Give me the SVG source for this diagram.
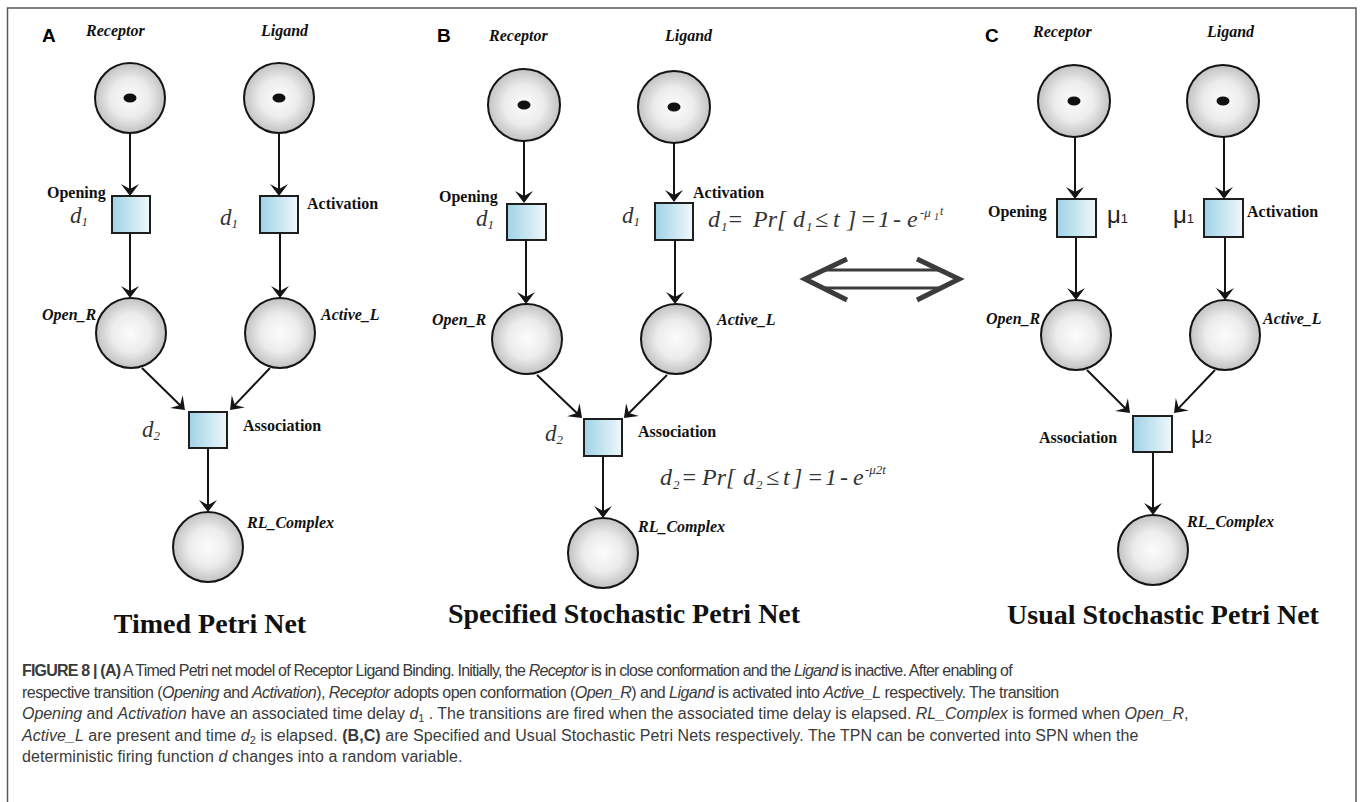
<svg xmlns="http://www.w3.org/2000/svg" width="1362" height="802" viewBox="0 0 1362 802">
  <style>
    .place { fill: url(#placeFill); stroke: #141414; stroke-width: 2; }
    .token { fill: #111; }
    .trans { fill: url(#transFill); stroke: #1e1e1e; stroke-width: 2; }
    .arc { fill: none; stroke: #141414; stroke-width: 2; marker-end: url(#head); }
    .name { font-family: "Liberation Serif", serif; font-weight: bold; font-style: italic; font-size: 16px; fill: #111; }
    .tname { font-family: "Liberation Serif", serif; font-weight: bold; font-size: 16px; fill: #111; }
    .delay { font-family: "Liberation Serif", serif; font-style: italic; font-size: 23px; fill: #333; }
    .sub { font-size: 13px; }
    .rate { font-family: "Liberation Sans", sans-serif; font-size: 24px; fill: #222; }
    .title { font-family: "Liberation Serif", serif; font-weight: bold; font-size: 28px; fill: #111; text-anchor: middle; }
    .panel { font-family: "Liberation Sans", sans-serif; font-weight: bold; font-size: 19px; fill: #000; }
    .formula { font-family: "Liberation Serif", serif; font-style: italic; font-size: 24px; fill: #333; }
    .cap { font-family: "Liberation Sans", sans-serif; font-size: 16px; fill: #3a3a3a; }
    .i { font-style: italic; }
    .b { font-weight: bold; }
    .dbl { fill: none; stroke: #3c3c3c; stroke-linejoin: miter; }
  </style>
  <defs>
    <radialGradient id="placeFill" cx="50%" cy="50%" r="50%">
      <stop offset="0" stop-color="#fcfcfc"/>
      <stop offset="0.55" stop-color="#ececec"/>
      <stop offset="1" stop-color="#c2c2c2"/>
    </radialGradient>
    <linearGradient id="transFill" x1="0" y1="0" x2="1" y2="0">
      <stop offset="0" stop-color="#9fd2e6"/>
      <stop offset="1" stop-color="#eff8fb"/>
    </linearGradient>
    <marker id="head" markerUnits="userSpaceOnUse" orient="auto" refX="-5" refY="0" markerWidth="30" markerHeight="30" overflow="visible">
      <path d="M0,0 L-12,-9 L-7,0 L-12,9 Z" fill="#141414"/>
    </marker>
  </defs>

  <rect x="0" y="0" width="1362" height="802" fill="#fff"/>
  <!-- figure frame -->
  <rect x="7.5" y="8" width="1348.5" height="820" fill="none" stroke="#5a5a5a" stroke-width="1.5"/>

  <!-- panel letters and titles -->
  <text class="panel" x="42" y="42">A</text>
  <text class="panel" x="437" y="42">B</text>
  <text class="panel" x="985" y="42">C</text>
  <text class="title" x="210" y="633">Timed Petri Net</text>
  <text class="title" x="624" y="623">Specified Stochastic Petri Net</text>
  <text class="title" x="1163" y="624">Usual Stochastic Petri Net</text>

  <!-- connectors -->
  <g id="connectors">
    <line class="arc" x1="130" y1="133" x2="130" y2="191"/>
    <line class="arc" x1="279" y1="133" x2="279" y2="191"/>
    <line class="arc" x1="130" y1="233" x2="130" y2="293"/>
    <line class="arc" x1="280" y1="233" x2="280" y2="293"/>
    <line class="arc" x1="142" y1="368" x2="181.4" y2="406.5"/>
    <line class="arc" x1="270" y1="368" x2="233.5" y2="406.4"/>
    <line class="arc" x1="208" y1="448" x2="208" y2="507"/>

    <line class="arc" x1="524" y1="141" x2="524" y2="198"/>
    <line class="arc" x1="674" y1="143" x2="674" y2="197"/>
    <line class="arc" x1="526" y1="240" x2="526" y2="299"/>
    <line class="arc" x1="675" y1="240" x2="675" y2="299"/>
    <line class="arc" x1="537" y1="375" x2="578.4" y2="414.5"/>
    <line class="arc" x1="667" y1="375" x2="627.5" y2="414.5"/>
    <line class="arc" x1="603" y1="456" x2="603" y2="513"/>

    <line class="arc" x1="1075" y1="137" x2="1075" y2="194"/>
    <line class="arc" x1="1224" y1="137" x2="1224" y2="194"/>
    <line class="arc" x1="1076" y1="237" x2="1076" y2="295"/>
    <line class="arc" x1="1225" y1="237" x2="1225" y2="295"/>
    <line class="arc" x1="1087" y1="370" x2="1126.5" y2="409.5"/>
    <line class="arc" x1="1215" y1="370" x2="1177.5" y2="409.4"/>
    <line class="arc" x1="1153" y1="452" x2="1153" y2="510"/>
  </g>

  <!-- Timed Petri Net -->
  <g id="a-receptor">
    <circle class="place" cx="130" cy="98" r="35"/>
    <ellipse class="token" cx="130" cy="98" rx="6.5" ry="4.5"/>
    <text class="name" x="86" y="36">Receptor</text>
  </g>
  <g id="a-ligand">
    <circle class="place" cx="279" cy="98" r="35"/>
    <ellipse class="token" cx="279" cy="98" rx="6.5" ry="4.5"/>
    <text class="name" x="261" y="36">Ligand</text>
  </g>
  <g id="a-opening">
    <rect class="trans" x="112" y="196" width="38" height="37"/>
    <text class="tname" x="47" y="198">Opening</text>
    <text class="delay" x="70" y="223">d<tspan class="sub" dy="3">1</tspan></text>
  </g>
  <g id="a-activation">
    <rect class="trans" x="260" y="196" width="38" height="37"/>
    <text class="tname" x="307" y="209">Activation</text>
    <text class="delay" x="220" y="225">d<tspan class="sub" dy="3">1</tspan></text>
  </g>
  <g id="a-open-r">
    <circle class="place" cx="131" cy="333" r="35"/>
    <text class="name" x="42" y="320">Open_R</text>
  </g>
  <g id="a-active-l">
    <circle class="place" cx="280" cy="333" r="35"/>
    <text class="name" x="321" y="320">Active_L</text>
  </g>
  <g id="a-association">
    <rect class="trans" x="189" y="412" width="38" height="36"/>
    <text class="tname" x="243" y="431">Association</text>
    <text class="delay" x="142" y="437">d<tspan class="sub" dy="3">2</tspan></text>
  </g>
  <g id="a-rl-complex">
    <circle class="place" cx="208" cy="547" r="35"/>
    <text class="name" x="247" y="528">RL_Complex</text>
  </g>

  <!-- Specified Stochastic Petri Net -->
  <g id="b-receptor">
    <circle class="place" cx="524" cy="105" r="36"/>
    <ellipse class="token" cx="524" cy="105" rx="6.5" ry="4.5"/>
    <text class="name" x="489" y="41">Receptor</text>
  </g>
  <g id="b-ligand">
    <circle class="place" cx="674" cy="107" r="36"/>
    <ellipse class="token" cx="674" cy="107" rx="6.5" ry="4.5"/>
    <text class="name" x="665" y="41">Ligand</text>
  </g>
  <g id="b-opening">
    <rect class="trans" x="507" y="204" width="39" height="36"/>
    <text class="tname" x="439" y="202">Opening</text>
    <text class="delay" x="476" y="226">d<tspan class="sub" dy="3">1</tspan></text>
  </g>
  <g id="b-activation">
    <rect class="trans" x="655" y="203" width="38" height="37"/>
    <text class="tname" x="693" y="198">Activation</text>
    <text class="delay" x="622" y="223">d<tspan class="sub" dy="3">1</tspan></text>
    <text class="formula" y="227"><tspan x="708">d</tspan><tspan class="sub" x="721" y="231">1</tspan><tspan x="727" y="227">=</tspan><tspan x="753">Pr[</tspan><tspan x="793">d</tspan><tspan class="sub" x="806" y="231">1</tspan><tspan x="815" y="227">≤</tspan><tspan x="833">t</tspan><tspan x="847">]</tspan><tspan x="860">=</tspan><tspan x="878">1</tspan><tspan x="893">-</tspan><tspan x="907">e</tspan><tspan font-size="13" x="920" y="217">-μ</tspan><tspan font-size="10" x="934" y="220">1</tspan><tspan font-size="12" x="940" y="215">t</tspan></text>
  </g>
  <g id="b-open-r">
    <circle class="place" cx="527" cy="339" r="35"/>
    <text class="name" x="432" y="325">Open_R</text>
  </g>
  <g id="b-active-l">
    <circle class="place" cx="676" cy="339" r="35"/>
    <text class="name" x="717" y="325">Active_L</text>
  </g>
  <g id="b-association">
    <rect class="trans" x="584" y="419" width="38" height="37"/>
    <text class="tname" x="638" y="437">Association</text>
    <text class="delay" x="545" y="441">d<tspan class="sub" dy="3">2</tspan></text>
    <text class="formula" y="485"><tspan x="660">d</tspan><tspan class="sub" x="673" y="489">2</tspan><tspan x="681" y="485">=</tspan><tspan x="702">Pr[</tspan><tspan x="743">d</tspan><tspan class="sub" x="756" y="489">2</tspan><tspan x="766" y="485">≤</tspan><tspan x="783">t</tspan><tspan x="793">]</tspan><tspan x="807">=</tspan><tspan x="825">1</tspan><tspan x="840">-</tspan><tspan x="853">e</tspan><tspan font-size="13" x="865" y="474">-μ2t</tspan></text>
  </g>
  <g id="b-rl-complex">
    <circle class="place" cx="603" cy="553" r="35"/>
    <text class="name" x="638" y="532">RL_Complex</text>
  </g>

  <!-- equivalence arrow between the two stochastic nets -->
  <g id="equivalence">
    <line class="dbl" x1="824" y1="270" x2="940" y2="270" stroke-width="3"/>
    <line class="dbl" x1="824" y1="288" x2="940" y2="288" stroke-width="3"/>
    <polyline class="dbl" points="847,259 805,279 847,300" stroke-width="5"/>
    <polyline class="dbl" points="917,259 959,279 917,300" stroke-width="5"/>
  </g>

  <!-- Usual Stochastic Petri Net -->
  <g id="c-receptor">
    <circle class="place" cx="1074" cy="101" r="36"/>
    <ellipse class="token" cx="1074" cy="101" rx="6.5" ry="4.5"/>
    <text class="name" x="1033" y="37">Receptor</text>
  </g>
  <g id="c-ligand">
    <circle class="place" cx="1223" cy="101" r="36"/>
    <ellipse class="token" cx="1223" cy="101" rx="6.5" ry="4.5"/>
    <text class="name" x="1207" y="37">Ligand</text>
  </g>
  <g id="c-opening">
    <rect class="trans" x="1057" y="199" width="39" height="38"/>
    <text class="tname" x="988" y="217">Opening</text>
    <text class="rate" x="1107" y="223">μ<tspan font-size="13">1</tspan></text>
  </g>
  <g id="c-activation">
    <rect class="trans" x="1204" y="199" width="39" height="38"/>
    <text class="tname" x="1247" y="217">Activation</text>
    <text class="rate" x="1173" y="223">μ<tspan font-size="13">1</tspan></text>
  </g>
  <g id="c-open-r">
    <circle class="place" cx="1076" cy="335" r="35"/>
    <text class="name" x="986" y="324">Open_R</text>
  </g>
  <g id="c-active-l">
    <circle class="place" cx="1225" cy="335" r="35"/>
    <text class="name" x="1263" y="324">Active_L</text>
  </g>
  <g id="c-association">
    <rect class="trans" x="1133" y="416" width="39" height="36"/>
    <text class="tname" x="1039" y="443">Association</text>
    <text class="rate" x="1191" y="443">μ<tspan font-size="13">2</tspan></text>
  </g>
  <g id="c-rl-complex">
    <circle class="place" cx="1153" cy="550" r="35"/>
    <text class="name" x="1187" y="527">RL_Complex</text>
  </g>

  <!-- caption -->
  <g id="caption">
    <text class="cap" x="22" y="676" letter-spacing="-0.8"><tspan class="b">FIGURE 8 | (A)</tspan> A Timed Petri net model of Receptor Ligand Binding. Initially, the <tspan class="i">Receptor</tspan> is in close conformation and the <tspan class="i">Ligand</tspan> is inactive. After enabling of</text>
    <text class="cap" x="22" y="698" letter-spacing="-0.52">respective transition (<tspan class="i">Opening</tspan> and <tspan class="i">Activation</tspan>), <tspan class="i">Receptor</tspan> adopts open conformation (<tspan class="i">Open_R</tspan>) and <tspan class="i">Ligand</tspan> is activated into <tspan class="i">Active_L</tspan> respectively. The transition</text>
    <text class="cap" x="22" y="719" letter-spacing="-0.04"><tspan class="i">Opening</tspan> and <tspan class="i">Activation</tspan> have an associated time delay <tspan class="i">d</tspan><tspan font-size="11" dy="3">1</tspan><tspan dy="-3"> . The transitions are fired when the associated time delay is elapsed. </tspan><tspan class="i">RL_Complex</tspan> is formed when <tspan class="i">Open_R</tspan>,</text>
    <text class="cap" x="22" y="741" letter-spacing="0.06"><tspan class="i">Active_L</tspan> are present and time <tspan class="i">d</tspan><tspan font-size="11" dy="3">2</tspan><tspan dy="-3"> is elapsed. </tspan><tspan class="b">(B,C)</tspan> are Specified and Usual Stochastic Petri Nets respectively. The TPN can be converted into SPN when the</text>
    <text class="cap" x="22" y="762" letter-spacing="0.09">deterministic firing function <tspan class="i">d</tspan> changes into a random variable.</text>
  </g>
</svg>
